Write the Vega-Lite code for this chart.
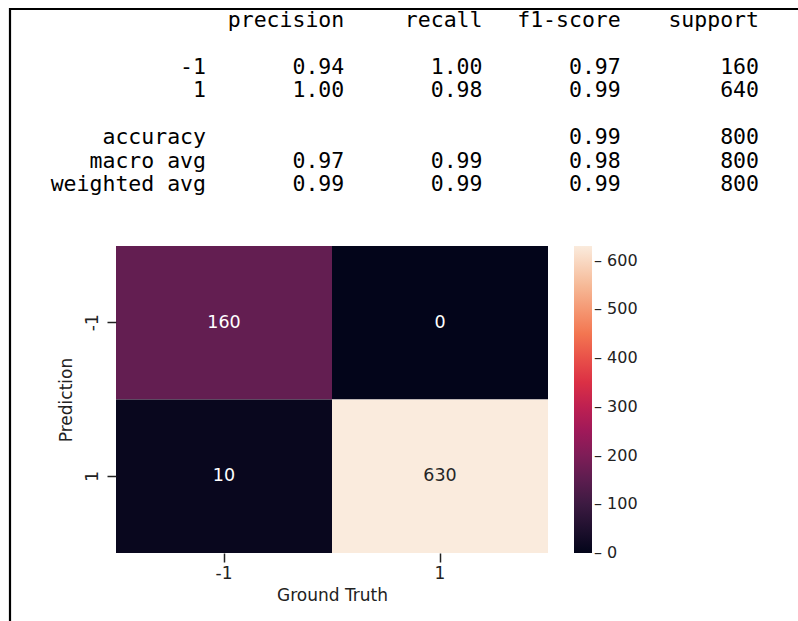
{
  "$schema": "https://vega.github.io/schema/vega-lite/v6.json",
  "autosize": {"type": "none"},
  "padding": {"left": 10, "top": 9, "right": 0, "bottom": 0},
  "width": 788,
  "height": 612,
  "background": "white",
  "config": {"font": "DejaVu Sans"},
  "view": {"stroke": "#000000", "strokeWidth": 2.2, "strokeDash": [788, 1400, 612]},
  "resolve": {"scale": {"x": "independent", "y": "independent"}, "axis": {"x": "independent", "y": "independent"}},
  "layer": [
    {
      "data": {"values": [
        {"line": "header", "column": "precision", "text": "precision"},
        {"line": "header", "column": "recall", "text": "recall"},
        {"line": "header", "column": "f1-score", "text": "f1-score"},
        {"line": "header", "column": "support", "text": "support"},
        {"line": "-1", "column": "name", "text": "-1"},
        {"line": "-1", "column": "precision", "text": "0.94"},
        {"line": "-1", "column": "recall", "text": "1.00"},
        {"line": "-1", "column": "f1-score", "text": "0.97"},
        {"line": "-1", "column": "support", "text": "160"},
        {"line": "1", "column": "name", "text": "1"},
        {"line": "1", "column": "precision", "text": "1.00"},
        {"line": "1", "column": "recall", "text": "0.98"},
        {"line": "1", "column": "f1-score", "text": "0.99"},
        {"line": "1", "column": "support", "text": "640"},
        {"line": "accuracy", "column": "name", "text": "accuracy"},
        {"line": "accuracy", "column": "f1-score", "text": "0.99"},
        {"line": "accuracy", "column": "support", "text": "800"},
        {"line": "macro avg", "column": "name", "text": "macro avg"},
        {"line": "macro avg", "column": "precision", "text": "0.97"},
        {"line": "macro avg", "column": "recall", "text": "0.99"},
        {"line": "macro avg", "column": "f1-score", "text": "0.98"},
        {"line": "macro avg", "column": "support", "text": "800"},
        {"line": "weighted avg", "column": "name", "text": "weighted avg"},
        {"line": "weighted avg", "column": "precision", "text": "0.99"},
        {"line": "weighted avg", "column": "recall", "text": "0.99"},
        {"line": "weighted avg", "column": "f1-score", "text": "0.99"},
        {"line": "weighted avg", "column": "support", "text": "800"}
      ]},
      "mark": {"type": "text", "font": "DejaVu Sans Mono", "fontSize": 21.5, "align": "right", "baseline": "middle", "color": "#000000"},
      "encoding": {
        "x": {"field": "column", "type": "nominal", "axis": null,
              "scale": {"type": "point", "domain": ["name", "precision", "recall", "f1-score", "support"], "padding": 0, "rangeMin": 196, "rangeMax": 749}},
        "y": {"field": "line", "type": "nominal", "axis": null,
              "scale": {"type": "point", "domain": ["header", "gap1", "-1", "1", "gap2", "accuracy", "macro avg", "weighted avg"], "padding": 0, "rangeMin": 12, "rangeMax": 176}},
        "text": {"field": "text"}
      }
    },
    {
      "data": {"values": [
        {"truth": "-1", "pred": "-1", "count": 160},
        {"truth": "1", "pred": "-1", "count": 0},
        {"truth": "-1", "pred": "1", "count": 10},
        {"truth": "1", "pred": "1", "count": 630}
      ]},
      "encoding": {
        "x": {"field": "truth", "type": "nominal", "sort": ["-1", "1"],
              "scale": {"type": "band", "paddingInner": 0, "paddingOuter": 0, "rangeMin": 106, "rangeMax": 538},
              "axis": {"orient": "bottom", "offset": -68, "title": "Ground Truth", "labelAngle": 0, "domain": false, "tickSize": 9, "tickWidth": 1.5, "tickColor": "#222222",
                       "labelFontSize": 17, "titleFontSize": 17, "labelColor": "#222222", "titleColor": "#222222", "titleFontWeight": "normal",
                       "labelPadding": 3, "titlePadding": 6}},
        "y": {"field": "pred", "type": "nominal", "sort": ["-1", "1"],
              "scale": {"type": "band", "paddingInner": 0, "paddingOuter": 0, "rangeMin": 237, "rangeMax": 544},
              "axis": {"orient": "left", "offset": -106, "title": "Prediction", "labelAngle": -90, "domain": false, "tickSize": 9, "tickWidth": 1.5, "tickColor": "#222222",
                       "labelFontSize": 17, "titleFontSize": 17, "labelColor": "#222222", "titleColor": "#222222", "titleFontWeight": "normal",
                       "labelPadding": 6, "titlePadding": 8}}
      },
      "layer": [
        {
          "mark": {"type": "rect"},
          "encoding": {
            "color": {"field": "count", "type": "quantitative",
                      "scale": {"domain": [0, 630], "interpolate": "rgb",
                                "range": ["#03051a", "#35193e", "#701f57", "#ad1759", "#e13342", "#f37651", "#f6b48f", "#faebdd"]},
                      "legend": {"title": null, "direction": "vertical", "orient": "none", "legendX": 564, "legendY": 237, "gradientLength": 307, "gradientThickness": 18,
                                 "values": [0, 100, 200, 300, 400, 500, 600], "labelFontSize": 16, "labelColor": "#222222",
                                 "labelOffset": 2, "labelOverlap": false, "labelExpr": "'– ' + datum.label", "gradientStrokeWidth": 0,
                                 "encode": {"labels": {"update": {"baseline": {"value": "middle"}}}}}}
          }
        },
        {
          "mark": {"type": "text", "fontSize": 17.5, "baseline": "middle"},
          "encoding": {
            "text": {"field": "count", "type": "quantitative"},
            "color": {"condition": {"test": "datum.count > 315", "value": "#262626"}, "value": "#ffffff"}
          }
        }
      ]
    }
  ]
}
